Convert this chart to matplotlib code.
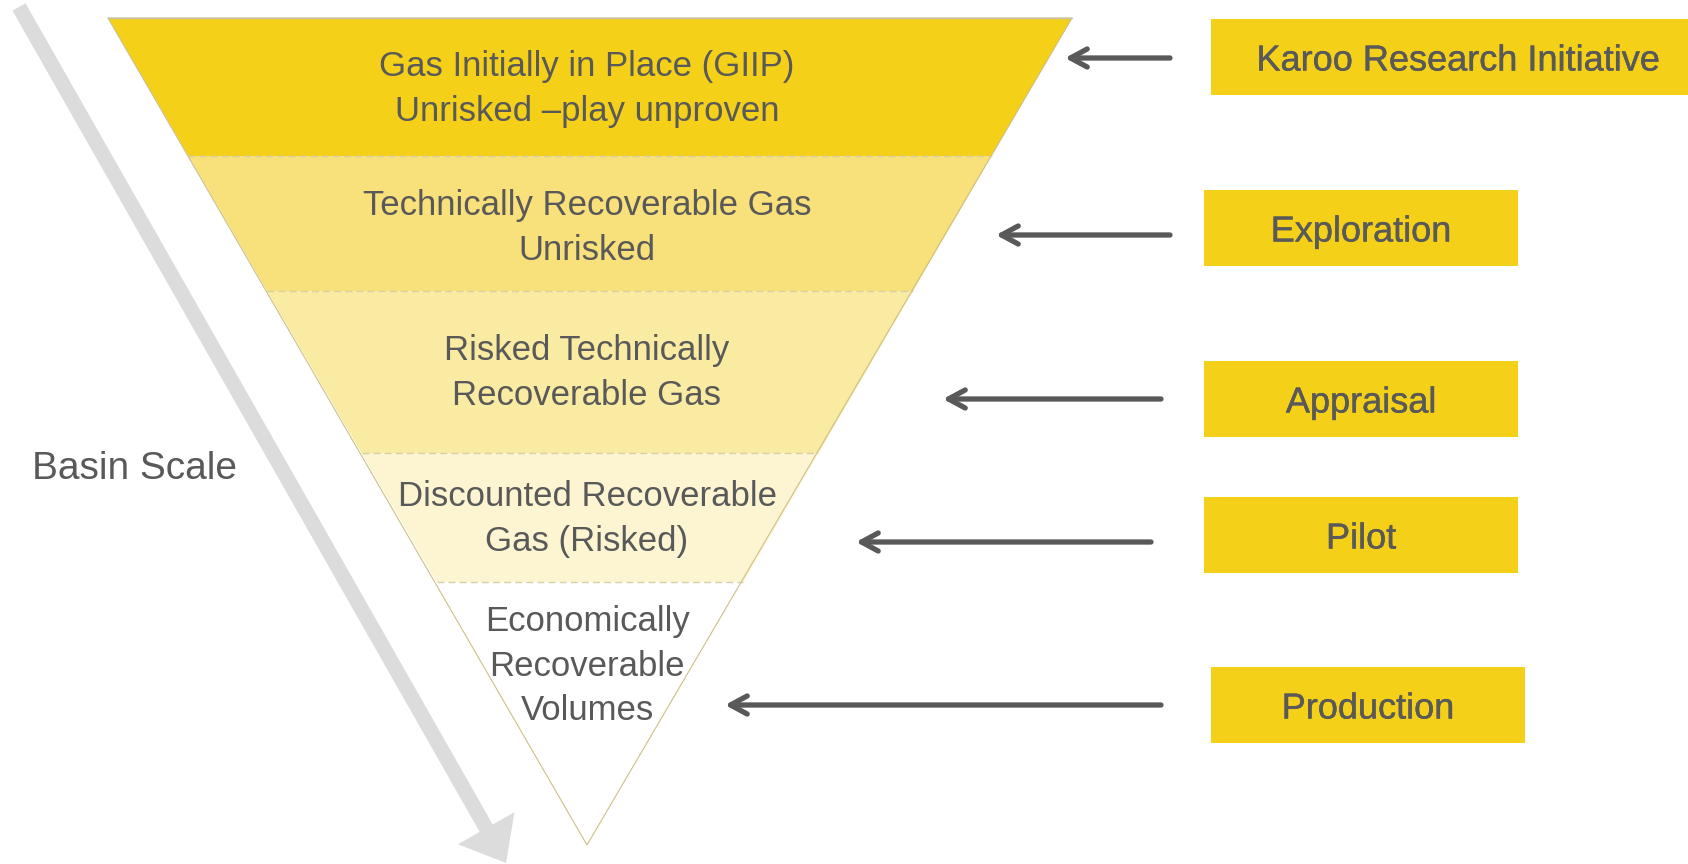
import matplotlib.pyplot as plt
import matplotlib.patheffects as pe
from matplotlib.patches import Polygon, Rectangle, FancyArrow

# Textos do funil (de cima para baixo)
band_labels = [
    "Gas Initially in Place (GIIP)\nUnrisked \u2013play unproven",
    "Technically Recoverable Gas\nUnrisked",
    "Risked Technically\nRecoverable Gas",
    "Discounted Recoverable\nGas (Risked)",
    "Economically\nRecoverable\nVolumes",
]
stage_labels = ["Karoo Research Initiative", "Exploration", "Appraisal", "Pilot", "Production"]
side_label = "Basin Scale"

# Layout (em pixels da figura)
W, H = 1688, 864
cx, top_y, apex_y, half_top = 590, 18, 845, 482
band_edges = [18, 156, 291, 453, 582, 845]
label_y = [89, 228, 373, 519, 666]
band_colors = ["#F5D019", "#F8E07A", "#FAEBA2", "#FDF5D2", "#FFFFFF"]

box_x0 = [1211, 1204, 1204, 1204, 1211]
box_x1 = [1705, 1518, 1518, 1518, 1525]
box_y0 = [19, 190, 361, 497, 667]
box_y1 = [95, 266, 437, 573, 743]
arrow_tip = [1065, 996, 943, 856, 725]
arrow_tail = [1170, 1170, 1161, 1151, 1161]
arrow_y = [58, 235, 399, 542, 705]

txt_color = "#595959"
font = ["Liberation Sans", "DejaVu Sans"]


def half_width(y):
    return half_top * (apex_y - y) / (apex_y - top_y)


fig = plt.figure(figsize=(W / 100, H / 100), dpi=100)
ax = fig.add_axes([0, 0, 1, 1])
ax.set_xlim(0, W)
ax.set_ylim(H, 0)
ax.axis("off")

# seta cinza grande
ax.add_patch(FancyArrow(19, 7, 487, 856, width=15, head_width=65, head_length=40,
                        length_includes_head=True, color="#DCDCDC", lw=0, zorder=1))

# faixas do funil
for k in range(5):
    y0, y1 = band_edges[k], band_edges[k + 1]
    pts = [(cx - half_width(y0), y0), (cx + half_width(y0), y0),
           (cx + half_width(y1), y1), (cx - half_width(y1), y1)]
    ax.add_patch(Polygon(pts, closed=True, facecolor=band_colors[k], edgecolor="none", zorder=2))
    if k > 0:
        ax.plot([cx - half_width(y0), cx + half_width(y0)], [y0, y0], color="#D6CFA8",
                lw=1, ls=(0, (5, 3)), zorder=3)
    ax.text(cx - 3, label_y[k], band_labels[k], ha="center", va="center", fontsize=25,
            color=txt_color, family=font, linespacing=1.45, zorder=4)

# contorno do triângulo
ax.add_patch(Polygon([(cx - half_top, top_y), (cx + half_top, top_y), (cx - 3, apex_y)],
                     closed=True, facecolor="none", edgecolor="#CDBF86", lw=0.8, zorder=3))
ax.plot([cx - half_top, cx + half_top], [top_y, top_y], color="#C8C2A8", lw=1, zorder=3)

ax.text(32, 469, side_label, ha="left", va="center", fontsize=28, color=txt_color, family=font)

# caixas e setas à direita
for k in range(5):
    ax.add_patch(Rectangle((box_x0[k], box_y0[k]), box_x1[k] - box_x0[k], box_y1[k] - box_y0[k],
                           facecolor="#F5D019", edgecolor="none", zorder=2))
    ax.text((box_x0[k] + box_x1[k]) / 2, (box_y0[k] + box_y1[k]) / 2 + 4, stage_labels[k],
            ha="center", va="center", fontsize=26, color=txt_color, family=font, zorder=4,
            path_effects=[pe.withStroke(linewidth=0.3, foreground=txt_color)])
    ax.annotate("", xy=(arrow_tip[k], arrow_y[k]), xytext=(arrow_tail[k], arrow_y[k]),
                arrowprops=dict(arrowstyle="->,head_length=1.2,head_width=0.65", color=txt_color,
                                lw=3.8, shrinkA=0, shrinkB=0), zorder=4)

fig.savefig("out.png", dpi=100)
